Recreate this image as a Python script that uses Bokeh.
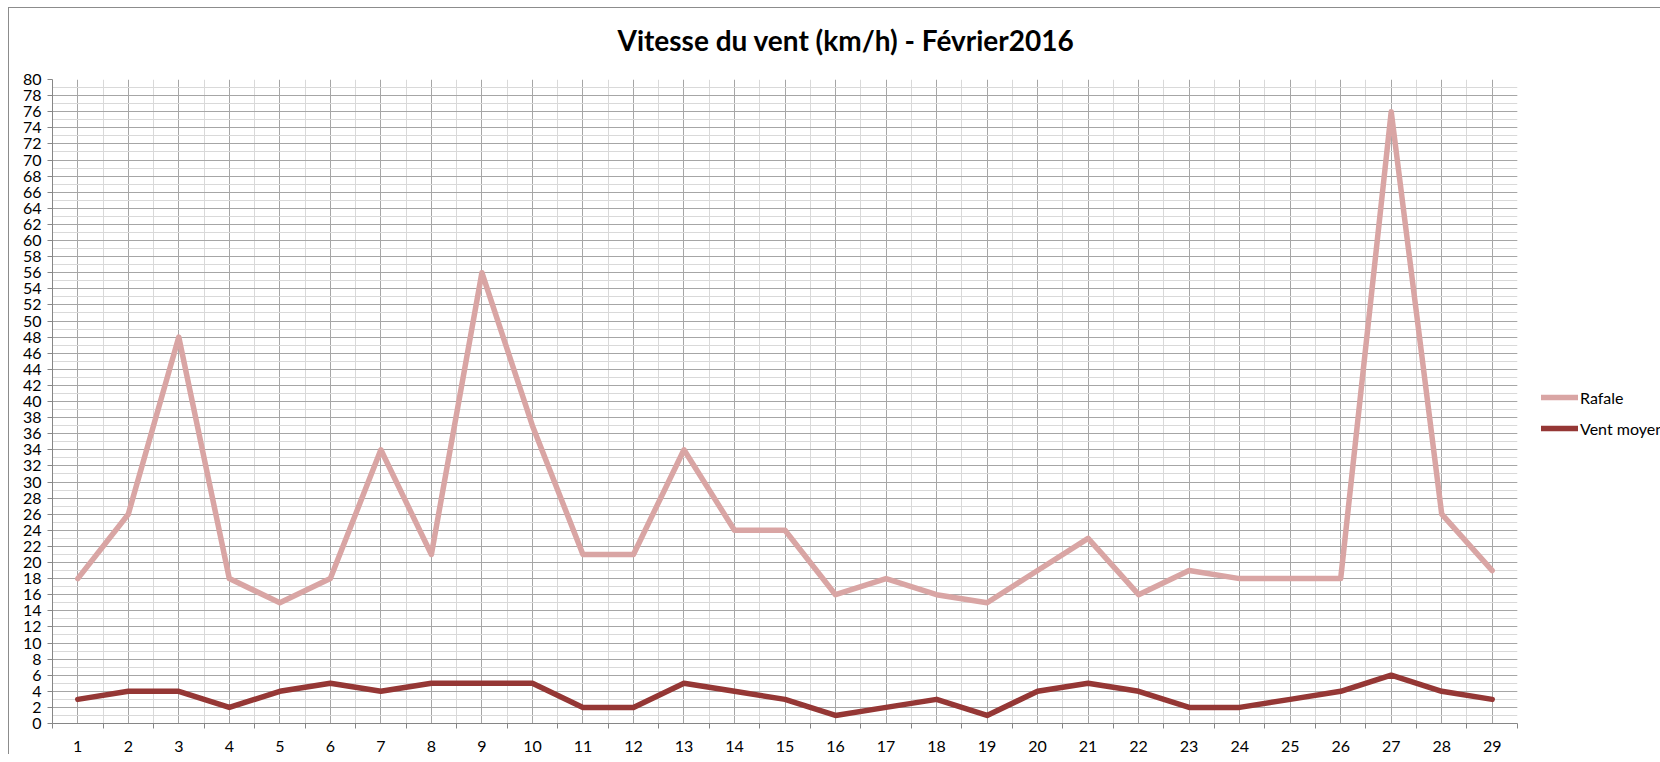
from bokeh.plotting import figure
from bokeh.models import FixedTicker, Legend, LegendItem, ColumnDataSource, Range1d, Title
from bokeh.embed import file_html
from bokeh.resources import INLINE

days = list(range(1, 30))
rafale = [18, 26, 48, 18, 15, 18, 34, 21, 56, 37, 21, 21, 34, 24, 24, 16, 18, 16, 15, 19,
          23, 16, 19, 18, 18, 18, 76, 26, 19]
vent_moyen = [3, 4, 4, 2, 4, 5, 4, 5, 5, 5, 2, 2, 5, 4, 3, 1, 2, 3, 1, 4,
              5, 4, 2, 2, 3, 4, 6, 4, 3]
y_ticks = list(range(0, 81, 2))
y_minor = list(range(0, 81))
x_bounds = [d - 0.5 for d in days] + [days[-1] + 0.5]
title_text = "Vitesse du vent (km/h) - Février2016"
series_names = ["Rafale", "Vent moyen"]

src = ColumnDataSource(dict(day=days, rafale=rafale, vent=vent_moyen))

p = figure(frame_width=1465, frame_height=644,
           min_border_left=43, min_border_top=71, min_border_bottom=31, min_border_right=143,
           x_range=Range1d(0.5, 29.5), y_range=Range1d(0, 80),
           output_backend="svg", toolbar_location=None)

p.margin = (7, 0, 0, 8)
p.styles = {"border-left": "1px solid #8c8c8c", "border-top": "1px solid #8c8c8c"}

# small spacer panel between frame and title
spacer = Title(text=" ", text_font_size="1px", standoff=4)
p.add_layout(spacer, "above")

main_title = Title(text=title_text, align="left", offset=565, vertical_align="top",
                   text_font="Lato", text_font_size="28px", text_font_style="bold",
                   text_color="#000000", standoff=27)
p.add_layout(main_title, "above")

p.outline_line_color = None

# axes
p.xaxis.ticker = FixedTicker(ticks=days, minor_ticks=x_bounds)
p.yaxis.ticker = FixedTicker(ticks=y_ticks, minor_ticks=y_minor)
for ax in (p.xaxis[0], p.yaxis[0]):
    ax.axis_line_color = "#868686"
    ax.axis_line_width = 1
    ax.major_label_text_font = "Lato"
    ax.major_label_text_font_size = "16px"
    ax.major_label_text_color = "#000000"
p.xaxis.major_tick_line_color = None
p.xaxis.major_tick_out = 0
p.xaxis.major_tick_in = 0
p.xaxis.minor_tick_line_color = "#868686"
p.xaxis.minor_tick_out = 5
p.xaxis.minor_tick_in = 0
p.xaxis.major_label_standoff = 12

p.yaxis.major_tick_line_color = "#868686"
p.yaxis.major_tick_out = 5
p.yaxis.major_tick_in = 0
p.yaxis.minor_tick_line_color = None
p.yaxis.major_label_standoff = 6

# grids
p.xgrid.grid_line_color = "#a6a6a6"
p.xgrid.minor_grid_line_color = "#d9d9d9"
p.ygrid.grid_line_color = "#a6a6a6"
p.ygrid.minor_grid_line_color = "#d9d9d9"

r1 = p.line("day", "rafale", source=src, line_color="#d9a5a4", line_width=5.5,
            line_cap="round", line_join="round")
r2 = p.line("day", "vent", source=src, line_color="#953735", line_width=5.5,
            line_cap="round", line_join="round")

legend = Legend(items=[LegendItem(label=series_names[0], renderers=[r1]),
                       LegendItem(label=series_names[1], renderers=[r2])],
                location=(24, 285))
legend.margin = 0
legend.border_line_color = None
legend.background_fill_alpha = 0
legend.glyph_width = 37
legend.glyph_height = 20
legend.label_height = 20
legend.spacing = 11
legend.padding = 0
legend.label_standoff = 2
legend.label_text_font = "Lato"
legend.label_text_font_size = "16px"
legend.label_text_color = "#000000"
p.add_layout(legend, "right")

open("out.html", "w").write(file_html(p, INLINE))
